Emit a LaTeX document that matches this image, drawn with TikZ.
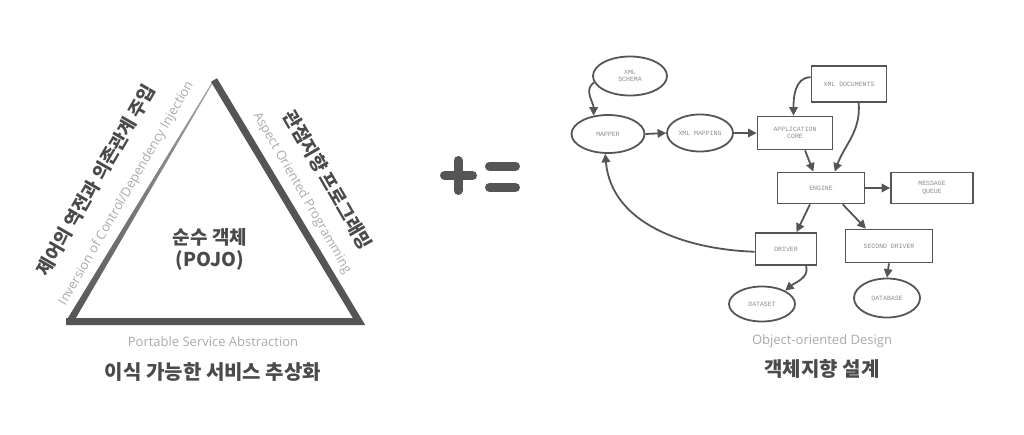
\documentclass[tikz,border=0pt]{standalone}
\usepackage{fontspec}
\setmainfont{Open Sans}
\newfontfamily\kr{Noto Sans CJK KR}
\newfontfamily\mono{Liberation Mono}
\usetikzlibrary{arrows.meta,shapes.geometric}
\definecolor{dk}{HTML}{555555}
\definecolor{tx}{HTML}{4A4A4A}
\definecolor{lt}{HTML}{AAAAAA}
\definecolor{nt}{HTML}{8C8C8C}
\begin{document}
\begin{tikzpicture}[x=1pt,y=1pt,
  title/.style={font=\kr\bfseries\fontsize{20}{22}\selectfont, text=tx, inner sep=0},
  rtitle/.style={font=\kr\bfseries\fontsize{18.5}{20}\selectfont, text=tx, inner sep=0},
  sub/.style={font=\fontsize{13}{15}\selectfont, text=lt, inner sep=0},
  ell/.style={ellipse, draw=dk, line width=1.8, inner sep=0, font=\mono\fontsize{6.5}{7.5}\selectfont, text=nt, align=center},
  box/.style={rectangle, draw=dk, line width=1.8, inner sep=0, font=\mono\fontsize{6.5}{7.5}\selectfont, text=nt, align=center},
  arr/.style={draw=dk, line width=1.8, -{Triangle[length=8.5pt,width=8.5pt]}},
  bar/.style={draw=dk, line width=9, line cap=round},
]
\useasboundingbox (0,0) rectangle (1024,-434);
% triangle
\shade[top color=dk!55, bottom color=dk] (73,-323) -- (67,-319.4) -- (213.6,-79.75) -- (214.4,-80.25) -- cycle;
\draw[dk, line width=7, line join=miter] (214,-80) -- (359,-321.5) -- (66,-321.5);
% triangle texts
\node[rtitle, rotate=60] (ioc) at (96,-180) {제어의 역전과 의존관계 주입};
\node[sub, rotate=60] (iocen) at (126.5,-193.5) {Inversion of Control/Dependency Injection};
\node[rtitle, rotate=-60] (aop) at (328,-180) {관점지향 프로그래밍};
\node[sub, rotate=-60] (aopen) at (302,-193) {Aspect Oriented Programming};
\node[title, align=center, font=\kr\bfseries\fontsize{19}{22}\selectfont] (pojo) at (210,-249) {순수 객체\\(POJO)};
\node[sub] (psaen) at (213,-342) {Portable Service Abstraction};
\node[title] (psa) at (213,-372) {이식 가능한 서비스 추상화};
% plus equals
\draw[bar] (444.5,-175.5) -- (472.5,-175.5);
\draw[bar] (458,-160.5) -- (458,-190.5);
\draw[bar] (489.5,-166) -- (515.5,-166);
\draw[bar] (489.5,-187.5) -- (515.5,-187.5);
% right diagram
\node[ell, minimum width=74, minimum height=39] (schema) at (630,-76) {XML\\SCHEMA};
\node[ell, minimum width=73, minimum height=38] (mapper) at (608,-134) {MAPPER};
\node[ell, minimum width=66, minimum height=37] (xmlmap) at (700,-133) {XML MAPPING};
\node[box, minimum width=75, minimum height=33] (appcore) at (795,-133) {APPLICATION\\CORE};
\node[box, minimum width=75, minimum height=36] (xmldocs) at (849,-84) {XML DOCUMENTS};
\node[box, minimum width=87, minimum height=31] (engine) at (821,-188) {ENGINE};
\node[box, minimum width=82, minimum height=31] (mq) at (932,-188) {MESSAGE\\QUEUE};
\node[box, minimum width=61, minimum height=32] (driver) at (786,-249) {DRIVER};
\node[box, minimum width=87, minimum height=33] (second) at (889,-246) {SECOND DRIVER};
\node[ell, minimum width=66, minimum height=35] (dataset) at (762,-304) {DATASET};
\node[ell, minimum width=66, minimum height=39] (database) at (887,-298) {DATABASE};
\draw[arr] (schema.190) to[out=215,in=90] (mapper.128);
\draw[arr] (mapper.east) -- (xmlmap.west);
\draw[arr] (xmlmap.east) -- (appcore.west);
\draw[arr] (xmldocs.170) to[out=180,in=90] (appcore.95);
\draw[arr] (xmldocs.-63) to[out=-85,in=70] (engine.50);
\draw[arr] (appcore.-60) -- (engine.115);
\draw[arr] (engine.east) -- (mq.west);
\draw[arr] (engine.-124) -- (driver.58);
\draw[arr] (engine.-37) -- (second.143);
\draw[arr] (driver.185) to[out=178,in=-85] (mapper.-98);
\draw[arr] (driver.-40) to[out=-75,in=40] (dataset.30);
\draw[arr] (second.south) -- (database.north);
\node[sub] (oodaen) at (822,-341) {Object-oriented Design};
\node[title] (ooda) at (822,-369) {객체지향 설계};
\end{tikzpicture}
\end{document}
